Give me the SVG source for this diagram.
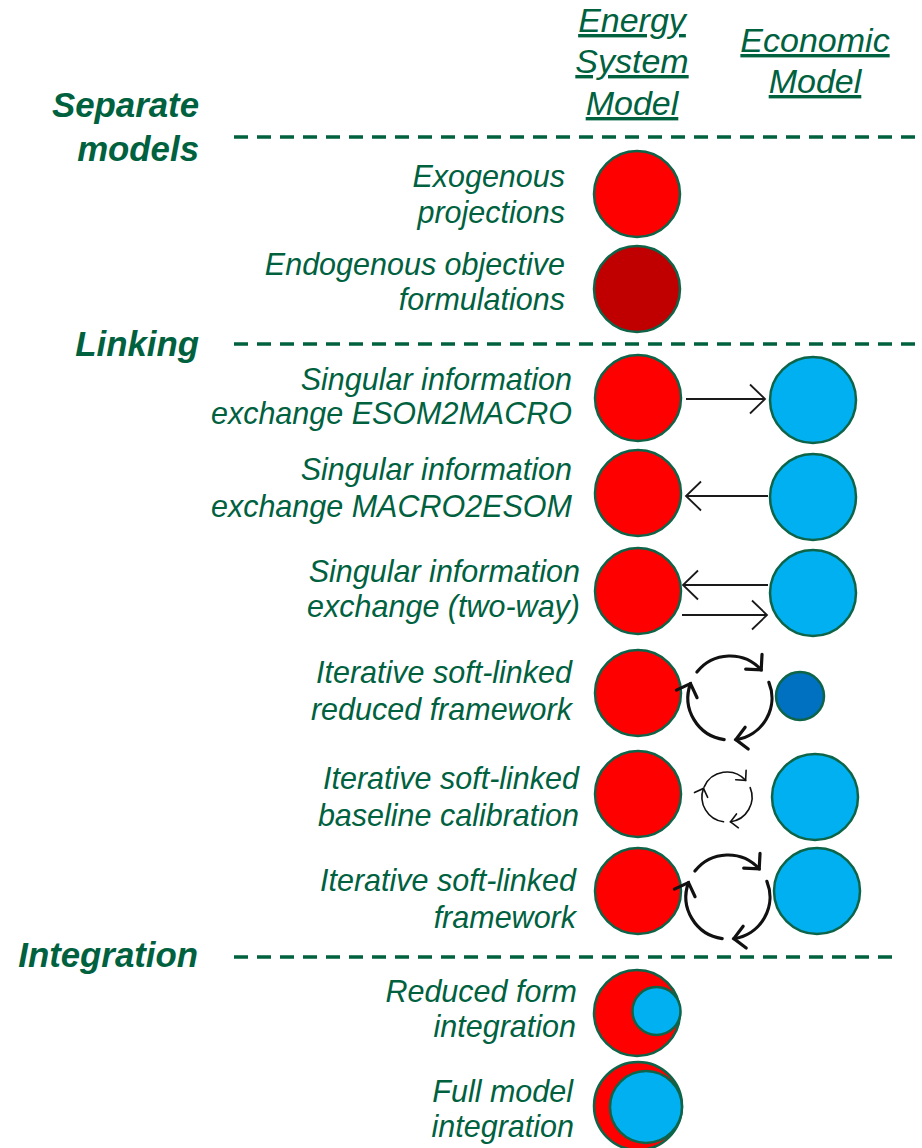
<svg xmlns="http://www.w3.org/2000/svg" width="922" height="1148" viewBox="0 0 922 1148">
<defs>
<style>
text{font-family:"Liberation Sans",Arial,sans-serif;fill:#00613F;font-style:italic}
.lbl{font-size:30.5px;text-anchor:end}
.hdr{font-size:34.8px;font-weight:bold;text-anchor:end}
.col{font-size:34px;text-anchor:middle;text-decoration:underline}
.dash{stroke:#00613F;stroke-width:3.5;stroke-dasharray:14 9;fill:none}
.esm{fill:#FF0000;stroke:#0E6448;stroke-width:2.5}
.esm2{fill:#C00000;stroke:#0E6448;stroke-width:2.5}
.eco{fill:#00B0F0;stroke:#0E6448;stroke-width:2.5}
.eco2{fill:#0070C0;stroke:#0E6448;stroke-width:2.5}
.ln{stroke:#1A1A1A;stroke-width:1.8;fill:none}
.cyc{stroke:#111;stroke-width:3.2;fill:none;stroke-linecap:round}
.cycs{stroke:#111;stroke-width:1.6;fill:none;stroke-linecap:round}
</style>
<marker id="ah" markerUnits="userSpaceOnUse" markerWidth="40" markerHeight="40" refX="0" refY="0" viewBox="-20 -20 40 40" orient="auto" overflow="visible">
<path d="M -15 -14.5 L 0 0 L -15 14.5" fill="none" stroke="#1A1A1A" stroke-width="1.8"/>
</marker>
<marker id="ahc" markerUnits="userSpaceOnUse" markerWidth="40" markerHeight="40" refX="0" refY="0" viewBox="-20 -20 40 40" orient="auto" overflow="visible">
<path d="M -11 -11 L 0 0 L -11 11" fill="none" stroke="#111" stroke-width="3.2" stroke-linecap="round"/>
</marker>
<marker id="ahs" markerUnits="userSpaceOnUse" markerWidth="20" markerHeight="20" refX="0" refY="0" viewBox="-10 -10 20 20" orient="auto" overflow="visible">
<path d="M -7 -7 L 0 0 L -7 7" fill="none" stroke="#111" stroke-width="1.6" stroke-linecap="round"/>
</marker>
</defs>
<rect width="922" height="1148" fill="#FFFFFF"/>

<g id="column-headers">
<text class="col" x="632" y="32">Energy</text>
<text class="col" x="632" y="73">System</text>
<text class="col" x="632" y="115">Model</text>
<text class="col" x="815" y="52">Economic</text>
<text class="col" x="815" y="93">Model</text>
</g>

<g id="section-headers">
<text class="hdr" x="199" y="117">Separate</text>
<text class="hdr" x="199" y="161">models</text>
<text class="hdr" x="199" y="356">Linking</text>
<text class="hdr" x="198" y="967">Integration</text>
<line class="dash" x1="234" y1="137" x2="922" y2="137"/>
<line class="dash" x1="234" y1="344" x2="922" y2="344"/>
<line class="dash" x1="234" y1="957" x2="900" y2="957"/>
</g>

<g id="row-exogenous">
<text class="lbl" x="565" y="187">Exogenous</text>
<text class="lbl" x="565" y="223">projections</text>
<circle class="esm" cx="637" cy="194" r="43"/>
</g>

<g id="row-endogenous">
<text class="lbl" x="565" y="275">Endogenous objective</text>
<text class="lbl" x="565" y="310">formulations</text>
<circle class="esm2" cx="637" cy="289" r="43"/>
</g>

<g id="row-esom2macro">
<text class="lbl" x="572" y="390">Singular information</text>
<text class="lbl" x="572" y="424">exchange ESOM2MACRO</text>
<circle class="esm" cx="638" cy="398" r="43"/>
<circle class="eco" cx="813" cy="400" r="43"/>
</g>

<g id="row-macro2esom">
<text class="lbl" x="572" y="480">Singular information</text>
<text class="lbl" x="572" y="517">exchange MACRO2ESOM</text>
<circle class="esm" cx="638" cy="493" r="43"/>
<circle class="eco" cx="813" cy="497" r="43"/>
</g>

<g id="row-two-way">
<text class="lbl" x="580" y="582">Singular information</text>
<text class="lbl" x="580" y="617">exchange (two-way)</text>
<circle class="esm" cx="638" cy="591" r="43"/>
<circle class="eco" cx="813" cy="593" r="43"/>
</g>

<g id="row-iter-reduced">
<text class="lbl" x="572" y="683">Iterative soft-linked</text>
<text class="lbl" x="572" y="720">reduced framework</text>
<circle class="esm" cx="638" cy="693" r="43"/>
<circle class="eco2" cx="800" cy="696" r="24"/>
</g>

<g id="row-iter-baseline">
<text class="lbl" x="579" y="789">Iterative soft-linked</text>
<text class="lbl" x="579" y="826">baseline calibration</text>
<circle class="esm" cx="638" cy="794" r="43"/>
<circle class="eco" cx="815" cy="797" r="43"/>
</g>

<g id="row-iter-full">
<text class="lbl" x="576" y="891">Iterative soft-linked</text>
<text class="lbl" x="576" y="928">framework</text>
<circle class="esm" cx="638" cy="891" r="43"/>
<circle class="eco" cx="817" cy="891" r="43"/>
</g>

<g id="row-reduced-integration">
<text class="lbl" x="577" y="1002">Reduced form</text>
<text class="lbl" x="576" y="1037">integration</text>
<circle class="esm" cx="637" cy="1013" r="43"/>
<circle class="eco" cx="656.5" cy="1011" r="24"/>
</g>

<g id="row-full-integration">
<text class="lbl" x="573" y="1102">Full model</text>
<text class="lbl" x="574" y="1137">integration</text>
<circle class="esm" cx="638" cy="1106" r="44"/>
<circle class="eco" cx="646" cy="1107" r="36"/>
</g>

<g id="connectors">
<line class="ln" x1="686" y1="399" x2="765" y2="399" marker-end="url(#ah)"/>
<line class="ln" x1="768" y1="496" x2="686" y2="496" marker-end="url(#ah)"/>
<line class="ln" x1="768" y1="585" x2="683" y2="585" marker-end="url(#ah)"/>
<line class="ln" x1="682" y1="615" x2="767" y2="615" marker-end="url(#ah)"/>

<path class="cyc" d="M 696.9 672.1 A 42 42 0 0 1 761.2 669.9" marker-end="url(#ahc)"/>
<path class="cyc" d="M 768.9 682.3 A 42 42 0 0 1 735.8 739.6" marker-end="url(#ahc)"/>
<path class="cyc" d="M 724.2 739.6 A 42 42 0 0 1 690.5 683.6" marker-end="url(#ahc)"/>

<path class="cycs" d="M 704.2 786.8 A 25 25 0 0 1 745.6 780.3" marker-end="url(#ahs)"/>
<path class="cycs" d="M 750.2 787.6 A 25 25 0 0 1 730.5 821.8" marker-end="url(#ahs)"/>
<path class="cycs" d="M 723.5 821.8 A 25 25 0 0 1 703.5 788.4" marker-end="url(#ahs)"/>

<path class="cyc" d="M 694.9 871.1 A 42 42 0 0 1 759.2 868.9" marker-end="url(#ahc)"/>
<path class="cyc" d="M 766.9 881.3 A 42 42 0 0 1 733.8 938.6" marker-end="url(#ahc)"/>
<path class="cyc" d="M 722.2 938.6 A 42 42 0 0 1 688.5 882.6" marker-end="url(#ahc)"/>
</g>
</svg>
